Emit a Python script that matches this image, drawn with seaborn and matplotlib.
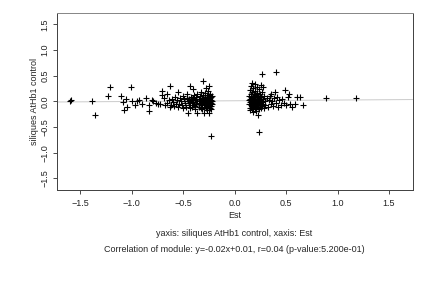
import numpy as np
import pandas as pd
import seaborn as sns
import matplotlib
matplotlib.use("Agg")
import matplotlib.pyplot as plt

# Est (x) and siliques AtHb1 control (y)
est_left = [-1.595, -1.585, -1.38, -1.352, -1.225, -1.206, -1.102, -1.079, -1.07, -1.053,
            -1.047, -1.002, -0.992, -0.963, -0.947, -0.927, -0.90, -0.859, -0.833, -0.827,
            -0.803, -0.79,
            -0.76, -0.74, -0.72, -0.70, -0.70, -0.69, -0.68, -0.66, -0.66, -0.64,
            -0.63, -0.63, -0.62, -0.61, -0.60, -0.59, -0.58, -0.57, -0.56, -0.55,
            -0.55, -0.54, -0.53, -0.52, -0.51, -0.50, -0.50, -0.49, -0.48, -0.47,
            -0.46, -0.46, -0.45, -0.45,
            -0.44, -0.44, -0.43, -0.43, -0.42, -0.42, -0.41, -0.41, -0.40, -0.40,
            -0.40, -0.39, -0.39, -0.38, -0.38, -0.37, -0.37, -0.36, -0.36, -0.36,
            -0.35, -0.35, -0.34, -0.34, -0.33, -0.33, -0.33, -0.32, -0.32, -0.32,
            -0.31, -0.31, -0.31, -0.30, -0.30, -0.30, -0.30, -0.29, -0.29, -0.29,
            -0.28, -0.28, -0.28, -0.28, -0.27, -0.27, -0.27, -0.27, -0.26, -0.26,
            -0.26, -0.25, -0.25, -0.25, -0.25, -0.25, -0.24, -0.24, -0.24, -0.24,
            -0.23, -0.23, -0.23, -0.23, -0.23, -0.22, -0.22, -0.22,
            -0.43, -0.41, -0.38, -0.35, -0.33, -0.31, -0.29, -0.27, -0.25, -0.23]
silq_left = [0.01, 0.02, 0.0, -0.26, 0.11, 0.28, 0.11, -0.01, -0.16, 0.05,
             -0.11, 0.28, 0.0, -0.08, 0.0, 0.02, -0.045, 0.065, -0.08, -0.18,
             0.02, 0.01,
             -0.03, -0.06, -0.05, 0.21, 0.13, 0.06, -0.08, 0.14, -0.04, 0.02,
             0.30, -0.10, -0.07, 0.05, -0.02, -0.09, 0.08, -0.05, 0.02, 0.19,
             -0.11, -0.06, 0.06, 0.00, -0.08, 0.10, -0.13, 0.04, -0.03, -0.10,
             0.07, 0.15, -0.22, 0.00,
             0.05, -0.07, 0.30, -0.13, 0.02, 0.09, -0.04, -0.10, 0.24, 0.06,
             -0.01, -0.08, 0.12, 0.03, -0.15, 0.08, -0.05, 0.00, -0.22, 0.15,
             -0.11, 0.05, 0.10, -0.03, -0.08, 0.18, 0.02, 0.07, -0.14, -0.05,
             0.40, 0.12, 0.00, -0.10, -0.22, 0.05, -0.03, 0.09, -0.07, 0.16,
             0.26, 0.02, -0.12, -0.04, 0.07, -0.17, 0.12, -0.01, -0.08, 0.04,
             0.20, 0.29, -0.22, 0.10, -0.05, 0.01, -0.12, 0.06, 0.14, -0.02,
             -0.68, 0.08, -0.09, 0.03, -0.15, 0.00, 0.11, -0.06,
             -0.02, 0.04, -0.09, -0.06, -0.12, 0.04, 0.01, -0.10, 0.03, -0.03]

est_right = [0.14, 0.14, 0.14, 0.15, 0.15, 0.15, 0.15, 0.16, 0.16, 0.16,
             0.16, 0.17, 0.17, 0.17, 0.17, 0.17, 0.18, 0.18, 0.18, 0.18,
             0.18, 0.19, 0.19, 0.19, 0.19, 0.20, 0.20, 0.20, 0.20, 0.20,
             0.21, 0.21, 0.21, 0.21, 0.22, 0.22, 0.22, 0.22, 0.23, 0.23,
             0.23, 0.23, 0.24, 0.24, 0.24, 0.24, 0.24, 0.25, 0.25, 0.25,
             0.26, 0.26, 0.26, 0.266, 0.27, 0.27, 0.27, 0.28, 0.28, 0.28,
             0.29, 0.29, 0.30, 0.30, 0.31, 0.32, 0.33, 0.34, 0.35, 0.35,
             0.36, 0.37, 0.38, 0.39, 0.399, 0.40, 0.41, 0.42, 0.43, 0.45,
             0.46, 0.48, 0.49, 0.50, 0.52, 0.53, 0.54, 0.56, 0.59, 0.61,
             0.64, 0.66, 0.885, 1.177,
             0.15, 0.16, 0.17, 0.19, 0.20, 0.21, 0.22, 0.23, 0.25, 0.26]
silq_right = [0.02, -0.05, 0.10, -0.12, 0.05, 0.22, -0.02, 0.30, -0.08, 0.14,
              0.00, 0.35, -0.15, 0.07, -0.04, 0.18, 0.02, -0.10, 0.26, 0.11,
              -0.20, -0.06, 0.05, 0.15, -0.01, 0.33, -0.13, 0.08, -0.03, 0.21,
              0.01, -0.09, 0.12, -0.18, 0.04, -0.05, 0.28, 0.17, -0.11, 0.00,
              0.09, -0.26, 0.25, -0.59, -0.03, 0.06, -0.15, 0.14, -0.07, 0.02,
              0.32, -0.12, 0.08, 0.54, -0.02, 0.19, -0.09, 0.05, 0.28, -0.05,
              0.11, -0.13, 0.01, -0.07, 0.07, -0.10, 0.03, 0.10, -0.06, 0.15,
              0.01, -0.09, 0.06, 0.19, 0.58, -0.04, 0.08, -0.10, 0.03, -0.07,
              0.05, -0.04, 0.23, -0.08, 0.085, 0.14, -0.06, -0.10, -0.045, 0.085,
              0.085, -0.08, 0.065, 0.065,
              -0.16, 0.08, -0.08, 0.10, 0.03, -0.14, 0.09, -0.07, -0.04, 0.04]

fit_x = [-1.728, 1.728]
fit_y = [-0.012, 0.036]

df = pd.DataFrame({"Est": est_left + est_right,
                   "silq": silq_left + silq_right})

sns.set_style("white")
plt.rcParams["font.family"] = ["Liberation Sans", "DejaVu Sans"]

fig = plt.figure(figsize=(6, 4), dpi=72)
ax = fig.add_axes([0.131, 0.340, 0.824, 0.616])

ax.plot(fit_x, fit_y, color="#cccccc", lw=1, zorder=1)
sns.scatterplot(data=df, x="Est", y="silq", marker="+", color="black",
                s=26, linewidth=1.1, ax=ax, zorder=2)

ax.set_xlim(-1.728, 1.728)
ax.set_ylim(-1.728, 1.728)
ax.set_xticks([-1.5, -1.0, -0.5, 0.0, 0.5, 1.0, 1.5])
ax.set_yticks([-1.5, -1.0, -0.5, 0.0, 0.5, 1.0, 1.5])
ax.tick_params(axis="both", direction="out", length=4, width=0.8,
               labelsize=9, colors="#222222", bottom=True, left=True)
ax.tick_params(axis="x", pad=5)
ax.tick_params(axis="y", pad=3)
for lab in ax.get_yticklabels():
    lab.set_rotation(90)
    lab.set_va("center")

for side in ["left", "bottom", "right"]:
    ax.spines[side].set_color("#444444")
    ax.spines[side].set_linewidth(1)
ax.spines["top"].set_color("#888888")
ax.spines["top"].set_linewidth(1)

ax.set_xlabel("Est", fontsize=9, labelpad=3)
ax.set_ylabel("siliques AtHb1 control", fontsize=9, labelpad=2)

fig.text(0.543, 0.1875, "yaxis: siliques AtHb1 control, xaxis: Est",
         ha="center", va="center", fontsize=9)
fig.text(0.543, 0.132,
         "Correlation of module: y=-0.02x+0.01, r=0.04 (p-value:5.200e-01)",
         ha="center", va="center", fontsize=9)

fig.savefig("out.png", dpi=72)
